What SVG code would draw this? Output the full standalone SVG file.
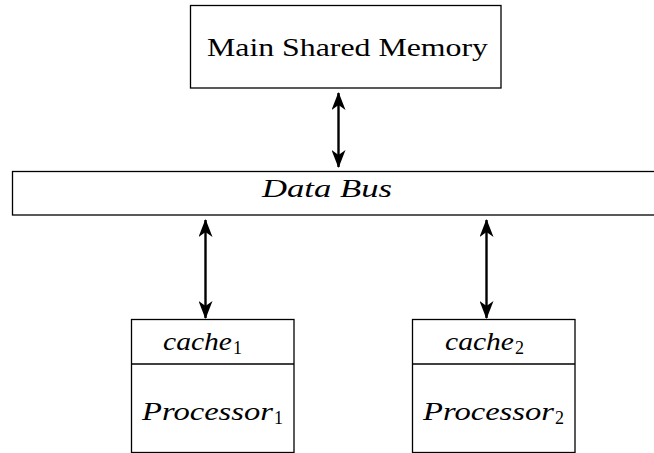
<svg xmlns="http://www.w3.org/2000/svg" width="654" height="453" viewBox="0 0 654 453">
<style>
.box{fill:#fff;stroke:#000;stroke-width:1.3}
.t{font-family:"Liberation Serif",serif;font-size:26px;fill:#000}
.i{font-style:italic}
.s{font-size:18px;font-style:normal}
.c{stroke:#000;stroke-width:2.4;fill:none}
</style>
<defs>
<marker id="ah" viewBox="0 0 18 14" refX="17" refY="7" markerWidth="18" markerHeight="14" markerUnits="userSpaceOnUse" orient="auto-start-reverse">
<path d="M0,0 L18,7 L0,14 L5,7 Z" fill="#000"/>
</marker>
</defs>
<g id="memory">
<rect class="box" x="190.5" y="5.5" width="310.5" height="82.5"/>
<text class="t" x="207" y="56" textLength="281" lengthAdjust="spacingAndGlyphs">Main Shared Memory</text>
</g>
<g id="bus">
<rect class="box" x="12.5" y="171.5" width="650" height="43.5"/>
<text class="t i" x="262" y="197" textLength="130" lengthAdjust="spacingAndGlyphs">Data Bus</text>
</g>
<g id="node1">
<rect class="box" x="131.5" y="319.5" width="162.5" height="133"/>
<line class="box" x1="131.5" y1="364" x2="294" y2="364"/>
<text class="t i" x="163" y="350"><tspan textLength="69" lengthAdjust="spacingAndGlyphs">cache</tspan><tspan class="s" dx="1" dy="4">1</tspan></text>
<text class="t i" x="142" y="420"><tspan textLength="131" lengthAdjust="spacingAndGlyphs">Processor</tspan><tspan class="s" dx="1" dy="4">1</tspan></text>
</g>
<g id="node2">
<rect class="box" x="412.5" y="319.5" width="162.5" height="133"/>
<line class="box" x1="412.5" y1="364" x2="575" y2="364"/>
<text class="t i" x="445" y="350"><tspan textLength="69" lengthAdjust="spacingAndGlyphs">cache</tspan><tspan class="s" dx="1" dy="4">2</tspan></text>
<text class="t i" x="423" y="420"><tspan textLength="131" lengthAdjust="spacingAndGlyphs">Processor</tspan><tspan class="s" dx="1" dy="4">2</tspan></text>
</g>
<g id="connectors">
<line class="c" x1="338.5" y1="93" x2="338.5" y2="167" marker-start="url(#ah)" marker-end="url(#ah)"/>
<line class="c" x1="205.5" y1="220" x2="205.5" y2="318" marker-start="url(#ah)" marker-end="url(#ah)"/>
<line class="c" x1="486.5" y1="220" x2="486.5" y2="318" marker-start="url(#ah)" marker-end="url(#ah)"/>
</g>
</svg>
